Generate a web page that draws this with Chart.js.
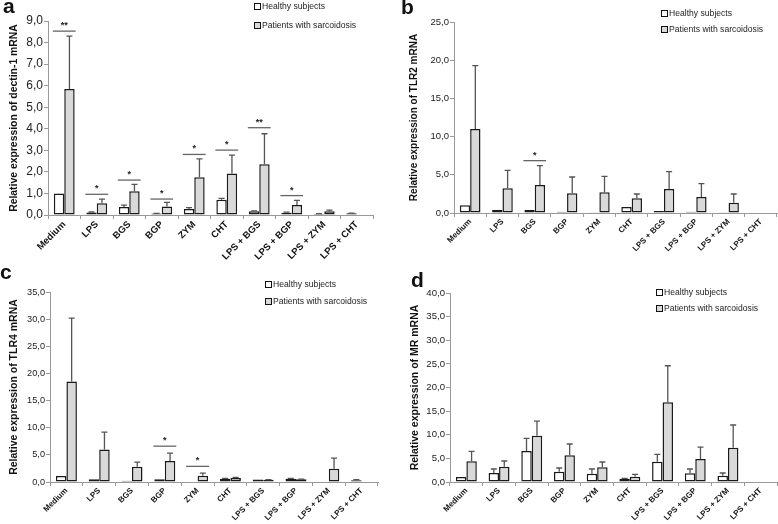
<!DOCTYPE html>
<html lang="en">
<head>
<meta charset="UTF-8">
<title>Relative expression panels</title>
<script src="https://cdn.jsdelivr.net/npm/chart.js"></script>
<style>
  body { margin: 0; background: #fff; font-family: 'Liberation Sans', Arial, sans-serif; }
  #wrap { position: relative; width: 778px; height: 524px; overflow: hidden; }
  #wrap canvas { position: absolute; }
  .tag { position: absolute; font-weight: bold; font-size: 21px; line-height: 1; color: #111; }
  .leg { position: absolute; font-size: 8.6px; line-height: 10px; color: #222; white-space: nowrap; }
  .leg i { display: inline-block; width: 5px; height: 5px; border: 1.3px solid #111; vertical-align: -1px; margin-right: 1px; }
</style>
</head>
<body>
<div id="wrap">
  <canvas id="chartA" width="390" height="262" style="left:0;top:0"></canvas>
  <canvas id="chartB" width="388" height="262" style="left:390px;top:0"></canvas>
  <canvas id="chartC" width="390" height="262" style="left:0;top:262px"></canvas>
  <canvas id="chartD" width="388" height="262" style="left:390px;top:262px"></canvas>
</div>

<script>
  const categories = ['Medium', 'LPS', 'BGS', 'BGP', 'ZYM', 'CHT', 'LPS + BGS', 'LPS + BGP', 'LPS + ZYM', 'LPS + CHT'];
  const seriesNames = ['Healthy subjects', 'Patients with sarcoidosis'];

  // a - dectin-1
  const dectinHealthy    = [1.0, 0.12, 0.37, 0.07, 0.28, 0.71, 0.17, 0.10, 0.05, 0.08];
  const dectinHealthySd  = [0, 0.02, 0.09, 0.01, 0.06, 0.06, 0.02, 0.03, 0.01, 0.01];
  const dectinPatients   = [5.85, 0.54, 1.10, 0.39, 1.75, 1.92, 2.36, 0.46, 0.17, null];
  const dectinPatientsSd = [2.45, 0.20, 0.32, 0.20, 0.85, 0.86, 1.41, 0.22, 0.06, 0];
  const dectinSigAt   = [0, 1, 2, 3, 4, 5, 6, 7];
  const dectinSigY    = [8.53, 0.96, 1.62, 0.74, 2.81, 3.01, 4.05, 0.90];
  const dectinSigMark = ['**', '*', '*', '*', '*', '*', '**', '*'];
  const dectinTicks   = [0, 1, 2, 3, 4, 5, 6, 7, 8, 9];

  // b - TLR2
  const tlr2Healthy    = [1.0, 0.40, 0.40, 0.15, 0.10, 0.78, 0.25, 0.15, 0.10, 0.08];
  const tlr2HealthySd  = [0, 0, 0, 0, 0, 0, 0, 0, 0, 0];
  const tlr2Patients   = [11.0, 3.23, 3.66, 2.57, 2.70, 1.92, 3.14, 2.09, 1.35, null];
  const tlr2PatientsSd = [8.3, 2.35, 2.54, 2.14, 2.10, 0.57, 2.27, 1.75, 1.14, 0];
  const tlr2SigAt   = [2];
  const tlr2SigY    = [6.85];
  const tlr2SigMark = ['*'];
  const tlr2Ticks   = [0, 5, 10, 15, 20, 25];

  // c - TLR4
  const tlr4Healthy    = [1.1, 0.50, 0.25, 0.50, 0.10, 0.60, 0.45, 0.60, 0.10, 0.30];
  const tlr4HealthySd  = [0, 0, 0, 0, 0, 0.05, 0, 0.05, 0, 0.12];
  const tlr4Patients   = [18.5, 6.0, 2.8, 3.86, 1.16, 0.75, 0.40, 0.50, 2.45, null];
  const tlr4PatientsSd = [11.7, 3.18, 0.87, 1.46, 0.49, 0.10, 0.05, 0.03, 1.95, 0];
  const tlr4SigAt   = [3, 4];
  const tlr4SigY    = [6.6, 2.88];
  const tlr4SigMark = ['*', '*'];
  const tlr4Ticks   = [0, 5, 10, 15, 20, 25, 30, 35];

  // d - MR
  const mrHealthy    = [1.06, 1.90, 6.56, 2.19, 1.76, 0.70, 4.30, 1.83, 1.34, null];
  const mrHealthySd  = [0, 0.85, 2.68, 0.77, 0.99, 0.08, 1.56, 0.92, 0.56, 0];
  const mrPatients   = [4.37, 3.25, 9.80, 5.64, 3.10, 1.13, 16.86, 4.87, 7.27, null];
  const mrPatientsSd = [2.13, 1.19, 3.10, 2.40, 1.13, 0.47, 7.74, 2.53, 4.79, 0];
  const mrSigAt   = [];
  const mrSigY    = [];
  const mrSigMark = [];
  const mrTicks   = [0, 5, 10, 15, 20, 25, 30, 35, 40];

  const FONT = "'Liberation Sans', Arial, sans-serif";

  function extrasPlugin(sigAt, sigY, sigMark) {
    return {
      id: 'extras',
      afterDatasetsDraw(chart) {
        const ctx = chart.ctx;
        const y = chart.scales.y;
        ctx.save();
        // error bars (upper only)
        ctx.strokeStyle = '#555';
        ctx.lineWidth = 1.3;
        chart.data.datasets.forEach((ds, di) => {
          chart.getDatasetMeta(di).data.forEach((bar, i) => {
            const v = ds.data[i], sd = ds.sd[i];
            if (v == null || !sd) return;
            const top = y.getPixelForValue(v + sd);
            ctx.beginPath();
            ctx.moveTo(bar.x, bar.y);
            ctx.lineTo(bar.x, top);
            ctx.moveTo(bar.x - 3, top);
            ctx.lineTo(bar.x + 3, top);
            ctx.stroke();
          });
        });
        // significance lines
        const h = chart.getDatasetMeta(0).data;
        const p = chart.getDatasetMeta(1).data;
        ctx.strokeStyle = '#666';
        ctx.lineWidth = 1.3;
        ctx.fillStyle = '#222';
        ctx.font = 'bold 9px ' + FONT;
        ctx.textAlign = 'center';
        ctx.textBaseline = 'bottom';
        sigAt.forEach((ci, k) => {
          const x0 = h[ci].x - h[ci].width / 2 - 1;
          const x1 = p[ci].x + p[ci].width / 2 + 1;
          const yy = y.getPixelForValue(sigY[k]);
          ctx.beginPath();
          ctx.moveTo(x0, yy);
          ctx.lineTo(x1, yy);
          ctx.stroke();
          ctx.fillText(sigMark[k], (x0 + x1) / 2, yy - 1);
        });
        ctx.restore();
      }
    };
  }

  function makePanel(id, p) {
    new Chart(document.getElementById(id), {
      type: 'bar',
      data: {
        labels: categories,
        datasets: [
          { label: seriesNames[0], data: p.healthy, sd: p.healthySd, backgroundColor: '#ffffff' },
          { label: seriesNames[1], data: p.patients, sd: p.patientsSd, backgroundColor: '#d9d9d9' }
        ]
      },
      options: {
        responsive: false,
        animation: false,
        categoryPercentage: 0.64,
        barPercentage: 1,
        borderColor: '#1a1a1a',
        borderWidth: 1.5,
        borderSkipped: false,
        layout: { padding: { left: 0, right: p.padRight, top: p.padTop, bottom: 0 } },
        plugins: { legend: { display: false }, tooltip: { enabled: false } },
        scales: {
          x: {
            afterFit(s) { s.height = p.xHeight; s.paddingLeft = 0; s.paddingRight = 0; },
            grid: { drawOnChartArea: false, drawTicks: true, tickLength: 4, offset: true, color: '#999' },
            border: { color: '#999', width: 1 },
            ticks: {
              autoSkip: false, minRotation: 45, maxRotation: 45, padding: 0,
              color: '#111', font: { family: FONT, size: p.xFont, weight: 'bold' }
            }
          },
          y: {
            min: 0,
            max: p.ticks[p.ticks.length - 1],
            afterBuildTicks(s) { s.ticks = p.ticks.map(v => ({ value: v })); },
            afterFit(s) { s.width = p.yWidth; s.paddingTop = 0; s.paddingBottom = 0; },
            grid: { drawOnChartArea: false, drawTicks: true, tickLength: 4, color: '#999' },
            border: { color: '#999', width: 1 },
            ticks: {
              padding: 1, color: '#222', font: { family: FONT, size: p.yFont },
              callback: v => v.toFixed(1).replace('.', ',')
            },
            title: {
              display: true, text: p.title, color: '#111',
              font: { family: FONT, size: p.titleFont, weight: 'bold' },
              padding: { top: p.titlePad, bottom: 0 }
            }
          }
        }
      },
      plugins: [extrasPlugin(p.sigAt, p.sigY, p.sigMark)]
    });
  }

  makePanel('chartA', {
    healthy: dectinHealthy, healthySd: dectinHealthySd, patients: dectinPatients, patientsSd: dectinPatientsSd,
    sigAt: dectinSigAt, sigY: dectinSigY, sigMark: dectinSigMark, ticks: dectinTicks,
    title: 'Relative expression of dectin-1 mRNA',
    yWidth: 48, padRight: 17, padTop: 21, xHeight: 47, titlePad: 8,
    xFont: 9.5, yFont: 12, titleFont: 10.4
  });
  makePanel('chartB', {
    healthy: tlr2Healthy, healthySd: tlr2HealthySd, patients: tlr2Patients, patientsSd: tlr2PatientsSd,
    sigAt: tlr2SigAt, sigY: tlr2SigY, sigMark: tlr2SigMark, ticks: tlr2Ticks,
    title: 'Relative expression of TLR2 mRNA',
    yWidth: 64, padRight: 1, padTop: 22, xHeight: 49, titlePad: 18,
    xFont: 8, yFont: 9.5, titleFont: 10
  });
  makePanel('chartC', {
    healthy: tlr4Healthy, healthySd: tlr4HealthySd, patients: tlr4Patients, patientsSd: tlr4PatientsSd,
    sigAt: tlr4SigAt, sigY: tlr4SigY, sigMark: tlr4SigMark, ticks: tlr4Ticks,
    title: 'Relative expression of TLR4 mRNA',
    yWidth: 50, padRight: 12, padTop: 30, xHeight: 42, titlePad: 8,
    xFont: 8, yFont: 9.2, titleFont: 10.5
  });
  makePanel('chartD', {
    healthy: mrHealthy, healthySd: mrHealthySd, patients: mrPatients, patientsSd: mrPatientsSd,
    sigAt: mrSigAt, sigY: mrSigY, sigMark: mrSigMark, ticks: mrTicks,
    title: 'Relative expression of MR mRNA',
    yWidth: 60, padRight: 1, padTop: 31, xHeight: 42, titlePad: 19,
    xFont: 8, yFont: 9.6, titleFont: 10.5
  });

  // panel letters and legends
  const wrap = document.getElementById('wrap');
  const tags = [['a', 3, -5], ['b', 401, -4], ['c', 0, 261], ['d', 411, 269]];
  tags.forEach(([t, x, y]) => {
    const d = document.createElement('div');
    d.className = 'tag';
    d.textContent = t;
    d.style.left = x + 'px';
    d.style.top = y + 'px';
    wrap.appendChild(d);
  });
  const legends = [[254, 6, 25], [661, 13, 29], [265, 284, 301], [656, 292, 308]];
  const fills = ['#ffffff', '#d9d9d9'];
  legends.forEach(([x, y0, y1]) => {
    [y0, y1].forEach((yc, k) => {
      const d = document.createElement('div');
      d.className = 'leg';
      d.style.left = x + 'px';
      d.style.top = (yc - 5) + 'px';
      const box = document.createElement('i');
      box.style.background = fills[k];
      d.appendChild(box);
      d.appendChild(document.createTextNode(seriesNames[k]));
      wrap.appendChild(d);
    });
  });
</script>
</body>
</html>
